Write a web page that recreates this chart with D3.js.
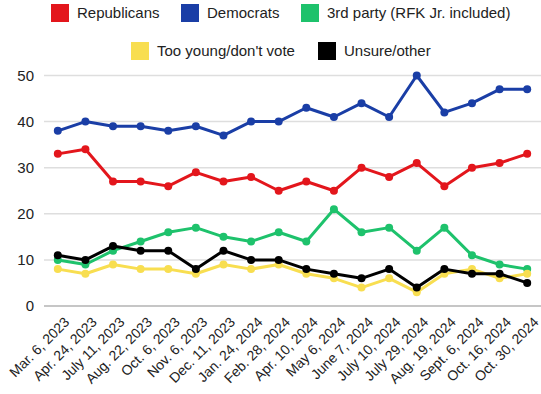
<!DOCTYPE html>
<html>
<head>
<meta charset="utf-8">
<script src="https://cdn.jsdelivr.net/npm/d3@7"></script>
<style>
  body { margin: 0; background: #fff; }
  text { font-family: 'Liberation Sans', Arial, sans-serif; }
</style>
</head>
<body>
<div id="chart"></div>
<script>
const WIDTH = 541;
const HEIGHT = 394;

const dates = ['Mar. 6, 2023', 'Apr. 24, 2023', 'July 11, 2023', 'Aug. 22, 2023', 'Oct. 6, 2023',
  'Nov. 6, 2023', 'Dec. 11, 2023', 'Jan. 24, 2024', 'Feb. 28, 2024', 'Apr. 10, 2024',
  'May 6, 2024', 'June 7, 2024', 'July 10, 2024', 'July 29, 2024', 'Aug. 19, 2024',
  'Sept. 6, 2024', 'Oct. 16, 2024', 'Oct. 30, 2024'];
const republicans = [33, 34, 27, 27, 26, 29, 27, 28, 25, 27, 25, 30, 28, 31, 26, 30, 31, 33];
const democrats = [38, 40, 39, 39, 38, 39, 37, 40, 40, 43, 41, 44, 41, 50, 42, 44, 47, 47];
const thirdParty = [10, 9, 12, 14, 16, 17, 15, 14, 16, 14, 21, 16, 17, 12, 17, 11, 9, 8];
const tooYoung = [8, 7, 9, 8, 8, 7, 9, 8, 9, 7, 6, 4, 6, 3, 7, 8, 6, 7];
const unsure = [11, 10, 13, 12, 12, 8, 12, 10, 10, 8, 7, 6, 8, 4, 8, 7, 7, 5];
const yTicks = [0, 10, 20, 30, 40, 50];

const series = [
  { name: 'Republicans', values: republicans, color: '#e3161c' },
  { name: 'Democrats', values: democrats, color: '#1a3ea6' },
  { name: '3rd party (RFK Jr. included)', values: thirdParty, color: '#1ec26c' },
  { name: 'Too young/don\'t vote', values: tooYoung, color: '#f8de50' },
  { name: 'Unsure/other', values: unsure, color: '#000000' }
];

const svg = d3.select('#chart').append('svg')
  .attr('width', WIDTH)
  .attr('height', HEIGHT);

const x = d3.scalePoint()
  .domain(dates)
  .range([44, 541])
  .padding(0.5);

const y = d3.scaleLinear()
  .domain([0, 50])
  .range([306, 75.5]);

// gridlines
svg.append('g')
  .selectAll('line')
  .data(yTicks)
  .enter()
  .append('line')
  .attr('x1', 44)
  .attr('x2', 541)
  .attr('y1', d => y(d))
  .attr('y2', d => y(d))
  .attr('stroke', d => d === 0 ? '#b3b3b3' : '#dedede')
  .attr('stroke-width', 1.5);

const yAxis = d3.axisLeft(y).tickValues(yTicks).tickSize(0).tickPadding(0);
svg.append('g')
  .attr('transform', 'translate(34, 0)')
  .call(yAxis)
  .call(g => g.select('.domain').remove())
  .selectAll('text')
  .attr('font-size', 15)
  .attr('fill', '#222');

const xAxis = d3.axisBottom(x).tickSize(0).tickPadding(0);
svg.append('g')
  .attr('transform', 'translate(0, 314)')
  .call(xAxis)
  .call(g => g.select('.domain').remove())
  .selectAll('text')
  .attr('font-size', 14)
  .attr('fill', '#222')
  .attr('text-anchor', 'end')
  .attr('dy', '0.7em')
  .attr('transform', 'translate(5, 2) rotate(-45)');

const line = d3.line()
  .x((d, i) => x(dates[i]))
  .y(d => y(d));

series.forEach(s => {
  svg.append('path')
    .datum(s.values)
    .attr('fill', 'none')
    .attr('stroke', s.color)
    .attr('stroke-width', 3)
    .attr('stroke-linejoin', 'round')
    .attr('d', line);
  svg.append('g')
    .selectAll('circle')
    .data(s.values)
    .enter()
    .append('circle')
    .attr('cx', (d, i) => x(dates[i]))
    .attr('cy', d => y(d))
    .attr('r', 4)
    .attr('fill', s.color);
});

// legend
const legendPos = [
  { x: 51, y: 4 }, { x: 181, y: 4 }, { x: 301, y: 4 },
  { x: 131, y: 42 }, { x: 318, y: 42 }
];
const legend = svg.append('g').attr('id', 'legend');
legend.selectAll('rect')
  .data(series)
  .enter()
  .append('rect')
  .attr('x', (d, i) => legendPos[i].x)
  .attr('y', (d, i) => legendPos[i].y)
  .attr('width', 18)
  .attr('height', 18)
  .attr('fill', d => d.color);
legend.selectAll('text')
  .data(series)
  .enter()
  .append('text')
  .attr('x', (d, i) => legendPos[i].x + 26)
  .attr('y', (d, i) => legendPos[i].y + 14)
  .attr('font-size', 15)
  .attr('fill', '#222')
  .text(d => d.name);
</script>
</body>
</html>
